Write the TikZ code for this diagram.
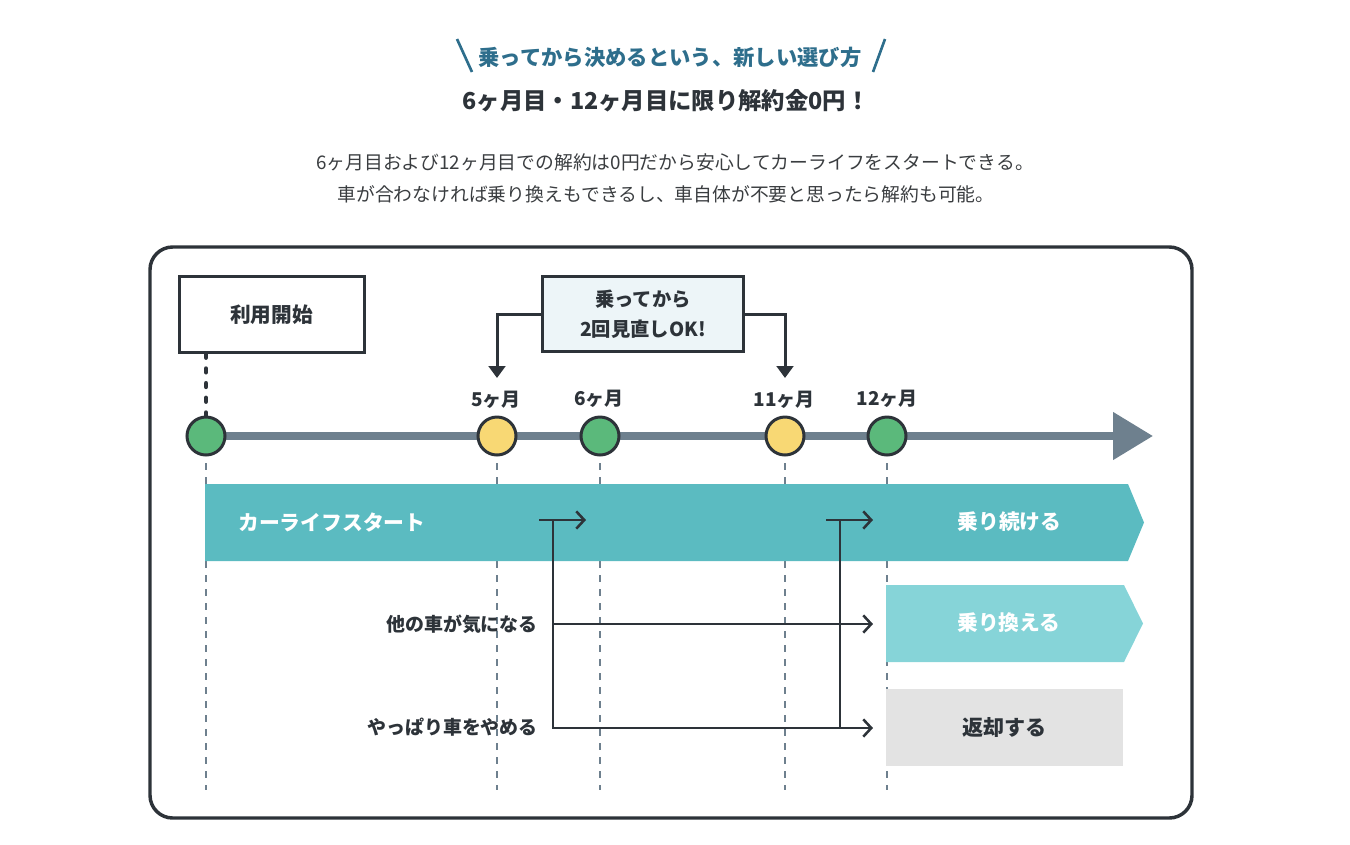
\documentclass[tikz,border=0pt]{standalone}
\usepackage{fontspec}
\setmainfont{Noto Sans CJK JP}
\usetikzlibrary{arrows.meta,calc}
\definecolor{ink}{HTML}{2D3339}
\definecolor{titleblue}{HTML}{2E6E8C}
\definecolor{tl}{HTML}{6E808E}
\definecolor{dgreen}{HTML}{5BB97B}
\definecolor{dyellow}{HTML}{F8D874}
\definecolor{tealA}{HTML}{5BBBC1}
\definecolor{tealB}{HTML}{86D4D8}
\definecolor{greybox}{HTML}{E3E3E3}
\definecolor{paleblue}{HTML}{EDF5F8}
\definecolor{bodytext}{HTML}{3A3D40}
\begin{document}
\begin{tikzpicture}[x=0.75pt,y=-0.75pt,
  labelbox/.style={draw=ink, line width=2.25pt, fill=white, inner sep=0pt,
    minimum width=138.75pt, minimum height=57pt, text=ink,
    font=\bfseries\fontsize{15.5pt}{18pt}\selectfont},
  reviewbox/.style={labelbox, fill=paleblue, minimum width=150.75pt, minimum height=56.25pt,
    align=center, font=\bfseries\fontsize{14.5pt}{22.5pt}\selectfont},
  dot/.style={circle, draw=ink, line width=2.25pt, minimum size=28.5pt, inner sep=0pt},
  month/.style={text=ink, inner sep=0pt, font=\bfseries\fontsize{14.25pt}{16pt}\selectfont},
  guide/.style={draw=tl, line width=2pt, dash pattern=on 5pt off 5.5pt},
  startdash/.style={draw=ink, line width=3.6pt, line cap=round, dash pattern=on 2.6pt off 8.4pt},
  timeline/.style={draw=tl, line width=6pt, -{Triangle[length=30pt,width=34.5pt]}},
  bracket/.style={draw=ink, line width=2.25pt, -{Triangle[length=9pt,width=12.5pt]}},
  flow/.style={draw=ink, line width=1.9pt},
  flowarrow/.style={flow, -{Straight Barb[length=6pt,width=13pt,line width=1.9pt]}},
  barlabel/.style={text=white, inner sep=0pt, font=\bfseries\fontsize{15.6pt}{18pt}\selectfont},
  sidelabel/.style={text=ink, inner sep=0pt, font=\bfseries\fontsize{14.2pt}{16pt}\selectfont},
  returnbox/.style={fill=greybox, inner sep=0pt, minimum width=177.75pt, minimum height=57.75pt,
    text=ink, font=\bfseries\fontsize{15.8pt}{18pt}\selectfont}
]
\useasboundingbox (0,0) rectangle (1350,844);

% ---- headings
\node[text=titleblue, font=\bfseries\fontsize{16pt}{19pt}\selectfont] (title) at (670,57)
  {乗ってから決めるという、新しい選び方};
\draw[titleblue, line width=2pt] (457,39) -- (472,72);
\draw[titleblue, line width=2pt] (885,39) -- (873,72);
\node[text=ink, font=\bfseries\fontsize{17.5pt}{20pt}\selectfont] (subtitle) at (666,101)
  {6ヶ月目・12ヶ月目に限り解約金0円！};
\node[text=bodytext, font=\fontsize{14.1pt}{17pt}\selectfont] (para1) at (675,162)
  {6ヶ月目および12ヶ月目での解約は0円だから安心してカーライフをスタートできる。};
\node[text=bodytext, font=\fontsize{14.1pt}{17pt}\selectfont] (para2) at (666,194)
  {車が合わなければ乗り換えもできるし、車自体が不要と思ったら解約も可能。};

% ---- frame
\draw[ink, line width=2.6pt, rounded corners=17pt] (150,247) rectangle (1192,818);

% ---- guide lines
\foreach \gx in {206,497,600,785,887}{
  \draw[guide] (\gx,463) -- (\gx,790);
}

% ---- bars
\fill[tealA] (205,484) -- (1128,484) -- (1144,522.5) -- (1128,561) -- (205,561) -- cycle;
\fill[tealB] (886,585) -- (1124,585) -- (1143,623.5) -- (1124,662) -- (886,662) -- cycle;
\node[barlabel, anchor=west] (startbar) at (238,522) {カーライフスタート};
\node[barlabel] (keep) at (1009.5,522) {乗り続ける};
\node[barlabel] (swap) at (1009,623) {乗り換える};
\node[returnbox] (ret) at (1004.5,727.5) {返却する};

% ---- timeline
\coordinate (tl0) at (206,436);
\coordinate (tl1) at (1153,436);
\draw[timeline] (tl0) -- (tl1);

% ---- boxes
\node[labelbox] (startbox) at (271.5,314.5) {利用開始};
\node[reviewbox] (review) at (643,314) {乗ってから\\2回見直しOK!};

% ---- dots
\node[dot, fill=dgreen] (c1) at (206,436) {};
\node[dot, fill=dyellow] (c5) at (497,436) {};
\node[dot, fill=dgreen] (c6) at (600,436) {};
\node[dot, fill=dyellow] (c11) at (785,436) {};
\node[dot, fill=dgreen] (c12) at (887,436) {};

\node[month] (m5) at (496,400) {5ヶ月};
\node[month] (m6) at (599,399) {6ヶ月};
\node[month] (m11) at (784,400) {11ヶ月};
\node[month] (m12) at (887,399) {12ヶ月};

\draw[startdash] (c1 |- startbox.south) -- (c1.north);

% ---- brackets
\coordinate (b5) at (497,378);
\coordinate (b11) at (785,378);
\draw[bracket] (review.west) -| (b5);
\draw[bracket] (review.east) -| (b11);

% ---- flows
\node[sidelabel, anchor=east] (other) at (538,624) {他の車が気になる};
\node[sidelabel, anchor=east] (quit) at (538,727) {やっぱり車をやめる};

\coordinate (f1s) at (539,520);
\coordinate (f1e) at (586,520);
\coordinate (k1) at (553,520);
\coordinate (k1m) at (553,624);
\coordinate (k1b) at (553,728);
\coordinate (e2) at (873,624);
\coordinate (e3) at (873,728);
\coordinate (f2s) at (826,520);
\coordinate (f2e) at (873,520);
\coordinate (k2) at (840,520);
\coordinate (k2b) at (840,728);

\draw[flowarrow] (f1s) -- (f1e);
\draw[flowarrow] (k1) -- (k1b) -- (e3);
\draw[flowarrow] (k1m) -- (e2);
\draw[flowarrow] (f2s) -- (f2e);
\draw[flow] (k2) -- (k2b);
\end{tikzpicture}
\end{document}
